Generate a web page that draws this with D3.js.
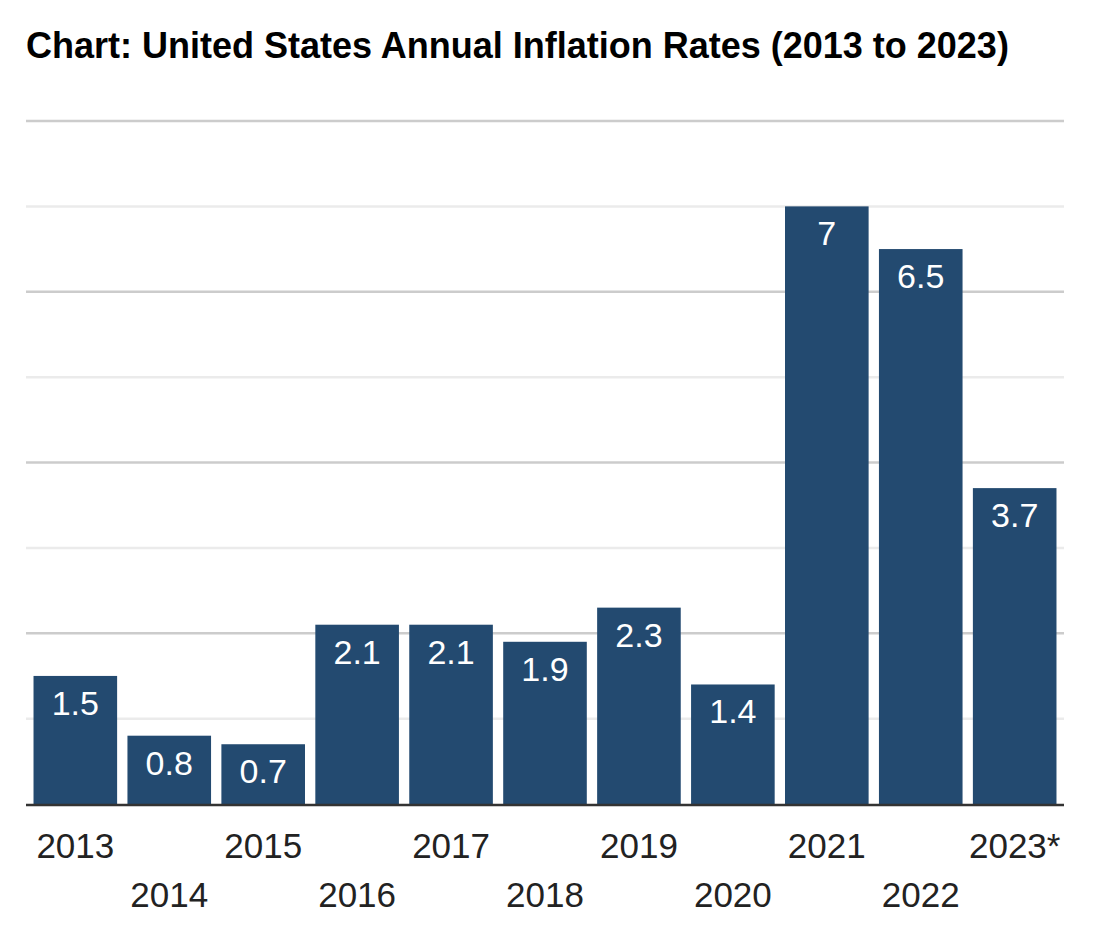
<!DOCTYPE html>
<html>
<head>
<meta charset="utf-8">
<script src="https://cdn.jsdelivr.net/npm/d3@7"></script>
<style>
  body { margin: 0; background: #fff; }
  text { font-family: "Liberation Sans", Arial, sans-serif; }
</style>
</head>
<body>
<div class="canvas"></div>
<script>
// data
const years = ['2013', '2014', '2015', '2016', '2017', '2018', '2019', '2020', '2021', '2022', '2023*'];
const rates = [1.5, 0.8, 0.7, 2.1, 2.1, 1.9, 2.3, 1.4, 7, 6.5, 3.7];
const yTicks = [0, 1, 2, 3, 4, 5, 6, 7, 8];

const data = years.map((y, i) => ({ year: y, rate: rates[i] }));

const svg = d3.select('.canvas')
  .append('svg')
  .attr('width', 1114)
  .attr('height', 946);

// title
svg.append('text')
  .attr('x', 26)
  .attr('y', 58)
  .attr('font-size', 36)
  .attr('font-weight', 'bold')
  .attr('fill', '#000')
  .text('Chart: United States Annual Inflation Rates (2013 to 2023)');

const x = d3.scaleBand()
  .domain(years)
  .range([26, 1064])
  .paddingInner(0.11)
  .paddingOuter(0.08);

const y = d3.scaleLinear()
  .domain([0, 8])
  .range([804, 121]);

// gridlines, darker on even values
svg.append('g')
  .selectAll('line')
  .data(yTicks.filter(d => d > 0))
  .enter()
  .append('line')
  .attr('x1', 26)
  .attr('x2', 1064)
  .attr('y1', d => y(d))
  .attr('y2', d => y(d))
  .attr('stroke', d => d % 2 === 0 ? '#cccccc' : '#ebebeb')
  .attr('stroke-width', 2.5);

// bars
svg.append('g')
  .selectAll('rect')
  .data(data)
  .enter()
  .append('rect')
  .attr('x', d => x(d.year))
  .attr('y', d => y(d.rate))
  .attr('width', x.bandwidth())
  .attr('height', d => y(0) - y(d.rate))
  .attr('fill', '#234a70');

// value labels inside bars
svg.append('g')
  .selectAll('text')
  .data(data)
  .enter()
  .append('text')
  .attr('x', d => x(d.year) + x.bandwidth() / 2)
  .attr('y', d => y(d.rate) + 39)
  .attr('text-anchor', 'middle')
  .attr('font-size', 34)
  .attr('fill', '#fff')
  .text(d => d.rate);

// baseline
svg.append('line')
  .attr('x1', 26)
  .attr('x2', 1064)
  .attr('y1', y(0) + 1)
  .attr('y2', y(0) + 1)
  .attr('stroke', '#333')
  .attr('stroke-width', 2.5);

// x axis labels, staggered on two rows
const xAxis = d3.axisBottom(x).tickSize(0).tickPadding(0);
const xAxisGroup = svg.append('g')
  .attr('transform', `translate(0,${y(0)})`)
  .call(xAxis);

xAxisGroup.select('.domain').remove();
xAxisGroup.selectAll('text')
  .attr('font-size', 35)
  .attr('font-family', '"Liberation Sans", Arial, sans-serif')
  .attr('fill', '#222')
  .attr('dy', null)
  .attr('y', (d, i) => i % 2 === 0 ? 54 : 103);
</script>
</body>
</html>
